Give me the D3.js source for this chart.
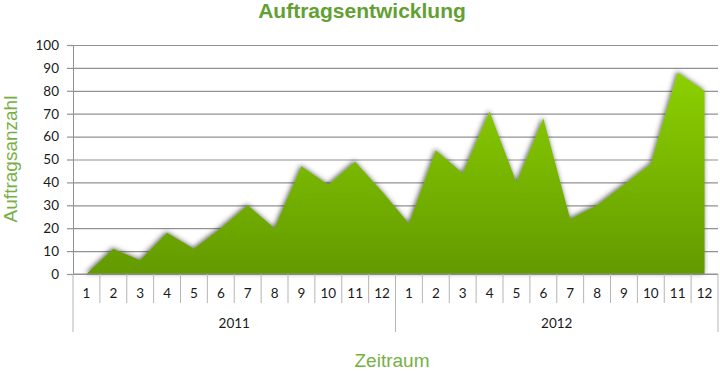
<!DOCTYPE html>
<html>
<head>
<meta charset="utf-8">
<script src="https://cdn.jsdelivr.net/npm/d3@7"></script>
<style>
  body { margin: 0; background: #fff; }
  svg { display: block; }
  .tick text { font-family: Lato, "Open Sans", sans-serif; font-size: 13.5px; fill: #1a1a1a; }
</style>
</head>
<body>
<svg id="chart" width="720" height="373"></svg>
<script>
// chart data
const years = ["2011", "2012"];
const months = ["1", "2", "3", "4", "5", "6", "7", "8", "9", "10", "11", "12"];
const orders2011 = [0, 11, 6, 18, 11, 20, 30, 20, 47, 39, 49, 36];
const orders2012 = [22, 54, 44, 71, 40, 68, 24, 30, 39, 48, 88, 80];
const yTicks = [0, 10, 20, 30, 40, 50, 60, 70, 80, 90, 100];

const data = [];
years.forEach((yr, yi) => {
  const vals = yi === 0 ? orders2011 : orders2012;
  months.forEach((m, mi) => data.push({ key: yr + "-" + m, year: yr, month: m, value: vals[mi] }));
});

const plotLeft = 73, plotRight = 718, plotTop = 45, plotBottom = 274;
const svg = d3.select("#chart");

const x = d3.scaleBand().domain(data.map((d) => d.key)).range([plotLeft, plotRight]);
const y = d3.scaleLinear().domain([0, 100]).range([plotBottom, plotTop]);

// defs: gradient + soft shadow
const defs = svg.append("defs");
const grad = defs.append("linearGradient")
  .attr("id", "areaGrad")
  .attr("gradientUnits", "userSpaceOnUse")
  .attr("x1", 0).attr("x2", 0)
  .attr("y1", plotTop).attr("y2", plotBottom);
grad.append("stop").attr("offset", "0%").attr("stop-color", "#92d800");
grad.append("stop").attr("offset", "100%").attr("stop-color", "#639a00");

const shadow = defs.append("filter").attr("id", "glow")
  .attr("x", "-5%").attr("y", "-10%").attr("width", "110%").attr("height", "120%");
shadow.append("feGaussianBlur").attr("in", "SourceAlpha").attr("stdDeviation", 2.4).attr("result", "blur");
shadow.append("feOffset").attr("in", "blur").attr("dx", -1).attr("dy", -1).attr("result", "off");
shadow.append("feFlood").attr("flood-color", "#333").attr("flood-opacity", 0.75);
shadow.append("feComposite").attr("in2", "off").attr("operator", "in").attr("result", "sh");
const merge = shadow.append("feMerge");
merge.append("feMergeNode").attr("in", "sh");
merge.append("feMergeNode").attr("in", "SourceGraphic");

// gridlines
svg.append("g")
  .attr("class", "grid")
  .attr("transform", `translate(${plotLeft},0)`)
  .call(d3.axisLeft(y).tickValues(yTicks).tickSize(-(plotRight - plotLeft)).tickFormat(""))
  .call((g) => g.select(".domain").remove())
  .call((g) => g.selectAll("line").attr("stroke", "#929292").attr("stroke-width", 1.2));

// y axis with labels
svg.append("g")
  .attr("class", "y-axis")
  .attr("transform", `translate(${plotLeft},0)`)
  .call(d3.axisLeft(y).tickValues(yTicks).tickSizeInner(6).tickSizeOuter(0).tickPadding(8))
  .call((g) => g.select(".domain").attr("stroke", "#929292"))
  .call((g) => g.selectAll(".tick line").attr("stroke", "#929292").attr("stroke-width", 1.2));

// area
const area = d3.area()
  .x((d) => x(d.key) + x.bandwidth() / 2)
  .y0(y(0))
  .y1((d) => y(d.value));

svg.append("path")
  .datum(data)
  .attr("d", area)
  .attr("fill", "url(#areaGrad)")
  .attr("filter", "url(#glow)");

// x axis line
svg.append("line")
  .attr("x1", plotLeft).attr("x2", plotRight)
  .attr("y1", y(0)).attr("y2", y(0))
  .attr("stroke", "#929292").attr("stroke-width", 1.2);

// month labels
svg.append("g")
  .attr("class", "x-axis")
  .attr("transform", `translate(0,${plotBottom})`)
  .call(d3.axisBottom(x).tickSize(0).tickPadding(14).tickFormat((k) => k.split("-")[1]))
  .call((g) => g.select(".domain").remove());

// month separators
svg.append("g").selectAll("line.sep")
  .data(data.slice(1))
  .join("line")
  .attr("class", "sep")
  .attr("x1", (d) => x(d.key)).attr("x2", (d) => x(d.key))
  .attr("y1", plotBottom).attr("y2", 303)
  .attr("stroke", "#b5b5b5");

// year separators
const yearEdges = [plotLeft, x(years[1] + "-1"), plotRight];
svg.append("g").selectAll("line.ysep")
  .data(yearEdges)
  .join("line")
  .attr("x1", (d) => d).attr("x2", (d) => d)
  .attr("y1", plotBottom).attr("y2", 332)
  .attr("stroke", "#b5b5b5");

// year labels
svg.append("g").selectAll("text.year")
  .data(years)
  .join("text")
  .attr("x", (d, i) => (yearEdges[i] + yearEdges[i + 1]) / 2)
  .attr("y", 328)
  .attr("text-anchor", "middle")
  .attr("font-family", "Lato, 'Open Sans', sans-serif")
  .attr("font-size", 13.5)
  .attr("fill", "#1a1a1a")
  .text((d) => d);

// titles
svg.append("text")
  .attr("x", 362).attr("y", 18)
  .attr("text-anchor", "middle")
  .attr("font-family", "'Liberation Sans', Arial, sans-serif")
  .attr("font-weight", "bold")
  .attr("font-size", 21)
  .attr("fill", "#62a032")
  .text("Auftragsentwicklung");

svg.append("text")
  .attr("transform", "translate(17,159) rotate(-90)")
  .attr("text-anchor", "middle")
  .attr("font-family", "'Liberation Sans', Arial, sans-serif")
  .attr("font-size", 19)
  .attr("fill", "#76b043")
  .text("Auftragsanzahl");

svg.append("text")
  .attr("x", 392).attr("y", 367)
  .attr("text-anchor", "middle")
  .attr("font-family", "'Liberation Sans', Arial, sans-serif")
  .attr("font-size", 19)
  .attr("fill", "#76b043")
  .text("Zeitraum");
</script>
</body>
</html>
